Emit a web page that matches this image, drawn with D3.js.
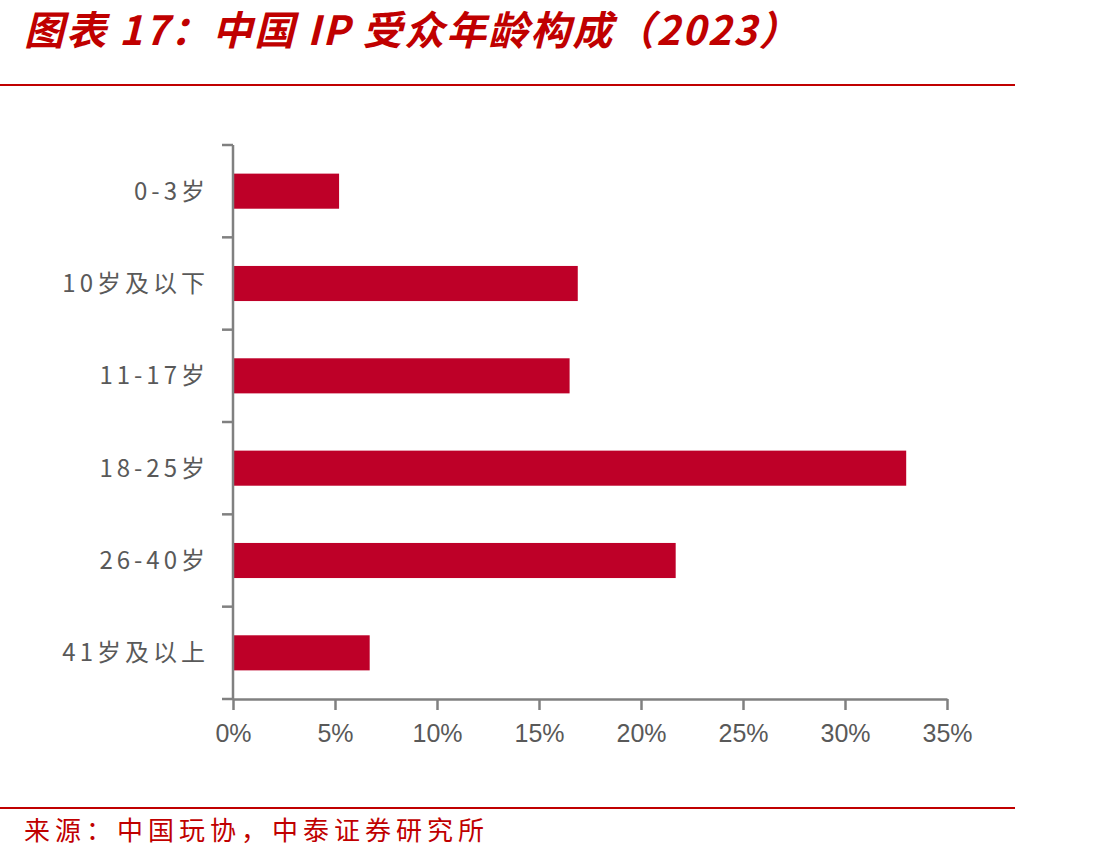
<!DOCTYPE html>
<html>
<head>
<meta charset="utf-8">
<script src="https://cdn.jsdelivr.net/npm/d3@7"></script>
<style>
    body { margin: 0; background: #fff; }
    svg { display: block; }
</style>
</head>
<body>
<div id="chart"></div>
<script>
const titleText = "图表 17：中国 IP 受众年龄构成（2023）";
const sourceText = "来源：中国玩协，中泰证券研究所";

const categories = ["0-3岁", "10岁及以下", "11-17岁", "18-25岁", "26-40岁", "41岁及以上"];
const values = [5.2, 16.9, 16.5, 33.0, 21.7, 6.7];
const xTicks = [0, 5, 10, 15, 20, 25, 30, 35];

const width = 1110, height = 859;
const margin = { top: 145, left: 233, right: 163, bottom: 160 };
const red = "#C00000";
const barColor = "#BE0028";
const axisColor = "#808080";

const svg = d3.select("#chart")
    .append("svg")
    .attr("width", width)
    .attr("height", height);

// title + rules
svg.append("text")
    .attr("x", 24)
    .attr("y", 45)
    .attr("fill", red)
    .attr("font-family", "'Noto Sans CJK SC', sans-serif")
    .attr("font-size", 40)
    .attr("font-weight", "bold")
    .attr("font-style", "italic")
    .attr("letter-spacing", 2)
    .text(titleText);

svg.append("line")
    .attr("x1", 0).attr("x2", 1015)
    .attr("y1", 85).attr("y2", 85)
    .attr("stroke", red).attr("stroke-width", 2);

svg.append("line")
    .attr("x1", 0).attr("x2", 1015)
    .attr("y1", 808).attr("y2", 808)
    .attr("stroke", red).attr("stroke-width", 2);

svg.append("text")
    .attr("x", 24)
    .attr("y", 840)
    .attr("fill", red)
    .attr("font-family", "'Noto Sans CJK SC', sans-serif")
    .attr("font-size", 26)
    .attr("letter-spacing", 5)
    .text(sourceText);

// scales
const x = d3.scaleLinear()
    .domain([0, 35])
    .range([margin.left, 947]);

const y = d3.scaleBand()
    .domain(categories)
    .range([margin.top, 699])
    .paddingInner(0.62)
    .paddingOuter(0.31);

// bars
svg.append("g")
    .selectAll("rect")
    .data(categories)
    .join("rect")
    .attr("x", x(0))
    .attr("y", d => y(d))
    .attr("width", (d, i) => x(values[i]) - x(0))
    .attr("height", y.bandwidth())
    .attr("fill", barColor);

// y axis with ticks on band boundaries
const yAxis = svg.append("g");
yAxis.append("line")
    .attr("x1", x(0)).attr("x2", x(0))
    .attr("y1", margin.top).attr("y2", 699)
    .attr("stroke", axisColor).attr("stroke-width", 2.5);

const step = (699 - margin.top) / categories.length;
yAxis.selectAll("line.tick")
    .data(d3.range(categories.length + 1))
    .join("line")
    .attr("class", "tick")
    .attr("x1", x(0) - 11).attr("x2", x(0))
    .attr("y1", i => margin.top + i * step)
    .attr("y2", i => margin.top + i * step)
    .attr("stroke", axisColor).attr("stroke-width", 2.5);

yAxis.selectAll("text")
    .data(categories)
    .join("text")
    .attr("x", x(0) - 24)
    .attr("y", d => y(d) + y.bandwidth() / 2)
    .attr("dy", "0.35em")
    .attr("text-anchor", "end")
    .attr("fill", "#595959")
    .attr("font-family", "'Noto Sans CJK SC', sans-serif")
    .attr("font-size", 24)
    .attr("letter-spacing", 4)
    .text(d => d);

// x axis
const xAxis = svg.append("g")
    .attr("transform", "translate(0,699)")
    .call(d3.axisBottom(x).tickValues(xTicks).tickFormat(d => d + "%").tickSize(11).tickPadding(14).tickSizeOuter(0));

xAxis.select(".domain").attr("stroke", axisColor).attr("stroke-width", 2.5);
xAxis.selectAll(".tick line").attr("stroke", axisColor).attr("stroke-width", 2.5);
xAxis.selectAll(".tick text")
    .attr("fill", "#595959")
    .attr("font-family", "'Liberation Sans Narrow', 'Liberation Sans', sans-serif")
    .attr("font-size", 25);
</script>
</body>
</html>
